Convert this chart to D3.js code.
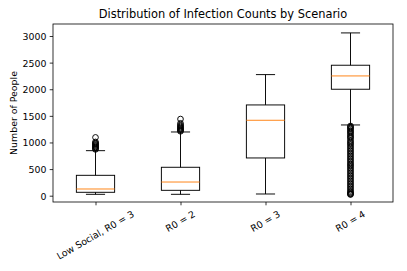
<!DOCTYPE html>
<html><head><meta charset="utf-8">
<script src="https://cdn.jsdelivr.net/npm/d3@7"></script>
<style>body{margin:0;background:#fff}svg{display:block}text{font-family:"DejaVu Sans",sans-serif;fill:#000}</style>
</head><body><svg id="c" width="407" height="271"></svg>
<script>
const categories = ["Low Social, R0 = 3", "R0 = 2", "R0 = 3", "R0 = 4"];
const q1 = [64, 101, 709, 2000];
const medians = [126, 257, 1417, 2250];
const q3 = [383, 534, 1705, 2451];
const whiskerLow = [26, 26, 32, 1329];
const whiskerHigh = [846, 1197, 2275, 3058];
const outliers1 = [870, 885, 900, 915, 930, 945, 960, 975, 990, 1010, 1095];
const outliers2 = [1210, 1225, 1240, 1255, 1270, 1290, 1310, 1330, 1360, 1440];
const outliers3 = [];
const outliers4 = [1310, 1290, 1270, 1250, 1225, 1200, 1180, 1150, 1120, 1100, 1075, 1040, 1010, 985, 960, 930, 900, 870, 840, 810, 780, 750, 720, 690, 660, 630, 600, 575, 550, 520, 490, 460, 430, 400, 370, 340, 310, 280, 250, 220, 190, 160, 130, 100, 75, 55, 40, 30, 22];
const yTicks = [0, 500, 1000, 1500, 2000, 2500, 3000];
const title = "Distribution of Infection Counts by Scenario";
const yLabel = "Number of People";

const outliers = [outliers1, outliers2, outliers3, outliers4];
const L = 53, R = 393, T = 24, B = 202;
const svg = d3.select("#c");
const x = d3.scaleLinear().domain([0.5, 4.5]).range([L, R]);
const y = d3.scaleLinear().domain([-118.4, 3225.6]).range([B, T]);
const fs = 9.4, lw = 0.95;
const bw = (x(1.45) - x(1)), cw = bw / 2;

// y axis
const ya = svg.append("g").attr("transform", `translate(${L},0)`)
  .call(d3.axisLeft(y).tickValues(yTicks).tickSize(3.3).tickPadding(3.3).tickFormat(d3.format("d")));
ya.select(".domain").remove();
ya.selectAll("line").attr("stroke", "#000").attr("stroke-width", 0.8);
ya.selectAll("text").attr("font-size", fs).attr("font-family", "DejaVu Sans").attr("dy", "0.37em");

// x axis
const xa = svg.append("g").attr("transform", `translate(0,${B})`)
  .call(d3.axisBottom(x).tickValues([1, 2, 3, 4]).tickSize(3.3).tickFormat(""));
xa.select(".domain").remove();
xa.selectAll("line").attr("stroke", "#000").attr("stroke-width", 0.8);

const top0 = B + 3.3 + 3.3, h = 11;
const lab = svg.append("g");
categories.forEach((c, i) => {
  const t = lab.append("text").text(c).attr("font-size", fs).attr("text-anchor", "middle").attr("dy", "0.33em");
  const w = t.node().getComputedTextLength();
  const H = w * 0.5 + h * Math.cos(Math.PI / 6);
  t.attr("transform", `translate(${x(i + 1)},${top0 + H / 2}) rotate(-30)`);
});

// boxes
const g = svg.append("g");
categories.forEach((c, i) => {
  const cx = x(i + 1);
  g.append("line").attr("x1", cx).attr("x2", cx).attr("y1", y(whiskerLow[i])).attr("y2", y(q1[i])).attr("stroke", "#000").attr("stroke-width", lw);
  g.append("line").attr("x1", cx).attr("x2", cx).attr("y1", y(q3[i])).attr("y2", y(whiskerHigh[i])).attr("stroke", "#000").attr("stroke-width", lw);
  g.append("line").attr("x1", cx - cw / 2).attr("x2", cx + cw / 2).attr("y1", y(whiskerLow[i])).attr("y2", y(whiskerLow[i])).attr("stroke", "#000").attr("stroke-width", lw);
  g.append("line").attr("x1", cx - cw / 2).attr("x2", cx + cw / 2).attr("y1", y(whiskerHigh[i])).attr("y2", y(whiskerHigh[i])).attr("stroke", "#000").attr("stroke-width", lw);
  g.append("rect").attr("x", cx - bw / 2).attr("width", bw).attr("y", y(q3[i])).attr("height", y(q1[i]) - y(q3[i]))
    .attr("fill", "none").attr("stroke", "#000").attr("stroke-width", lw);
  g.append("line").attr("x1", cx - bw / 2).attr("x2", cx + bw / 2).attr("y1", y(medians[i])).attr("y2", y(medians[i])).attr("stroke", "#ff7f0e").attr("stroke-width", lw);
  g.selectAll(null).data(outliers[i]).enter().append("circle")
    .attr("cx", cx).attr("cy", d => y(d)).attr("r", 2.85).attr("fill", "none").attr("stroke", "#000").attr("stroke-width", lw);
});

// frame
svg.append("rect").attr("x", L).attr("y", T).attr("width", R - L).attr("height", B - T)
  .attr("fill", "none").attr("stroke", "#000").attr("stroke-width", 0.8);

svg.append("text").text(title).attr("x", (L + R) / 2).attr("y", 18).attr("text-anchor", "middle").attr("font-size", 11.4);
svg.append("text").text(yLabel).attr("transform", `translate(17.2,${(T + B) / 2}) rotate(-90)`).attr("text-anchor", "middle").attr("font-size", fs);
</script></body></html>
